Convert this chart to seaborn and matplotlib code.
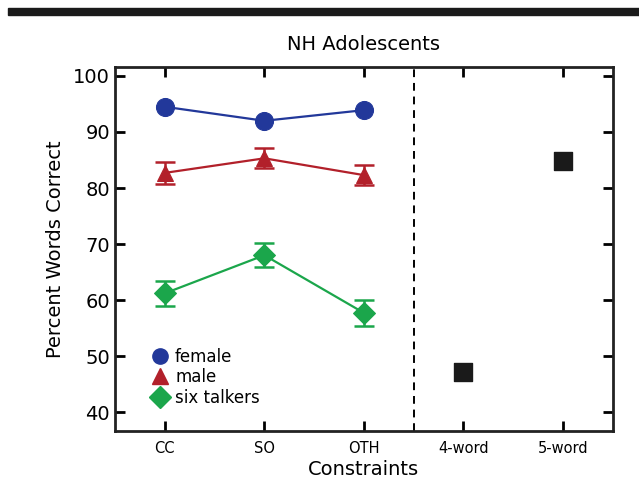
import numpy as np
import pandas as pd
import matplotlib
matplotlib.use("Agg")
import matplotlib.pyplot as plt
import seaborn as sns
from matplotlib.lines import Line2D

sns.set_theme(style="white")
plt.rcParams['font.family'] = ['DejaVu Sans']
plt.rcParams['text.color'] = 'black'
plt.rcParams['axes.labelcolor'] = 'black'
plt.rcParams['xtick.color'] = 'black'
plt.rcParams['ytick.color'] = 'black'

categories = ["CC", "SO", "OTH", "4-word", "5-word"]
constraint_pos = [1, 2, 3]
female = [94.5, 92.0, 93.9]
female_err = [0.5, 0.5, 0.5]
male = [82.7, 85.3, 82.3]
male_err = [1.9, 1.8, 1.8]
six = [61.2, 68.0, 57.7]
six_err = [2.2, 2.1, 2.3]
word_pos = [4, 5]
word_vals = [47.2, 84.8]

colors = {"female": "#22389A", "male": "#B2202A", "six talkers": "#1BA64B"}
markers = {"female": "o", "male": "^", "six talkers": "D"}
msizes = {"female": 13, "male": 12, "six talkers": 11}
caps = {"female": 4, "male": 7, "six talkers": 7}

rows = []
for name, vals, errs in [("female", female, female_err), ("male", male, male_err), ("six talkers", six, six_err)]:
    for p, v, e in zip(constraint_pos, vals, errs):
        rows.append({"group": name, "x": p, "y": v, "err": e})
df = pd.DataFrame(rows)
wdf = pd.DataFrame({"x": word_pos, "y": word_vals})

fig = plt.figure(figsize=(6.39, 4.91), dpi=100)
ax = fig.add_axes([0.18, 0.122, 0.779, 0.7415])

for name in ["female", "male", "six talkers"]:
    sub = df[df.group == name]
    ax.errorbar(sub.x, sub.y, yerr=sub.err, fmt="none", ecolor=colors[name],
                elinewidth=1.8, capsize=caps[name], capthick=1.8, zorder=2)
    sns.lineplot(data=sub, x="x", y="y", color=colors[name], marker=markers[name],
                 markersize=msizes[name], markeredgecolor=colors[name], linewidth=1.6,
                 ax=ax, zorder=3, legend=False)

sns.scatterplot(data=wdf, x="x", y="y", marker="s", s=150, color="#1a1a1a",
                edgecolor="#1a1a1a", ax=ax, zorder=3, legend=False)

ax.axvline(3.5, color="black", linestyle=(0, (4, 3)), linewidth=1.4)

ax.set_xlim(0.5, 5.5)
ax.set_ylim(36.6, 101.6)
ax.set_xticks([1, 2, 3, 4, 5])
ax.set_xticklabels(categories, fontsize=10.5)
ax.set_yticks([40, 50, 60, 70, 80, 90, 100])
ax.tick_params(axis="y", labelsize=14, direction="in", length=7, width=2, right=True, left=True)
ax.tick_params(axis="x", direction="in", length=7, width=2, top=True, bottom=True, pad=7)
for s in ax.spines.values():
    s.set_linewidth(2)
    s.set_color("#222222")

ax.set_xlabel("Constraints", fontsize=14, labelpad=3)
ax.set_ylabel("Percent Words Correct", fontsize=14, labelpad=6)
ax.set_title("NH Adolescents", fontsize=14, pad=12)

handles = [Line2D([], [], linestyle="none", marker=markers[n], color=colors[n], markersize=11)
           for n in ["female", "male", "six talkers"]]
ax.legend(handles, ["female", "male", "six talkers"], loc="lower left", frameon=False,
          fontsize=12, handletextpad=0.3, labelspacing=0.15, borderaxespad=0.3,
          bbox_to_anchor=(0.047, 0.035), handlelength=1.2)

fig.add_artist(plt.Rectangle((8 / 639, 1 - 15 / 491), 1.0, 7 / 491, transform=fig.transFigure,
                             color="#1a1a1a", clip_on=False))

fig.savefig("out.png", dpi=100)
